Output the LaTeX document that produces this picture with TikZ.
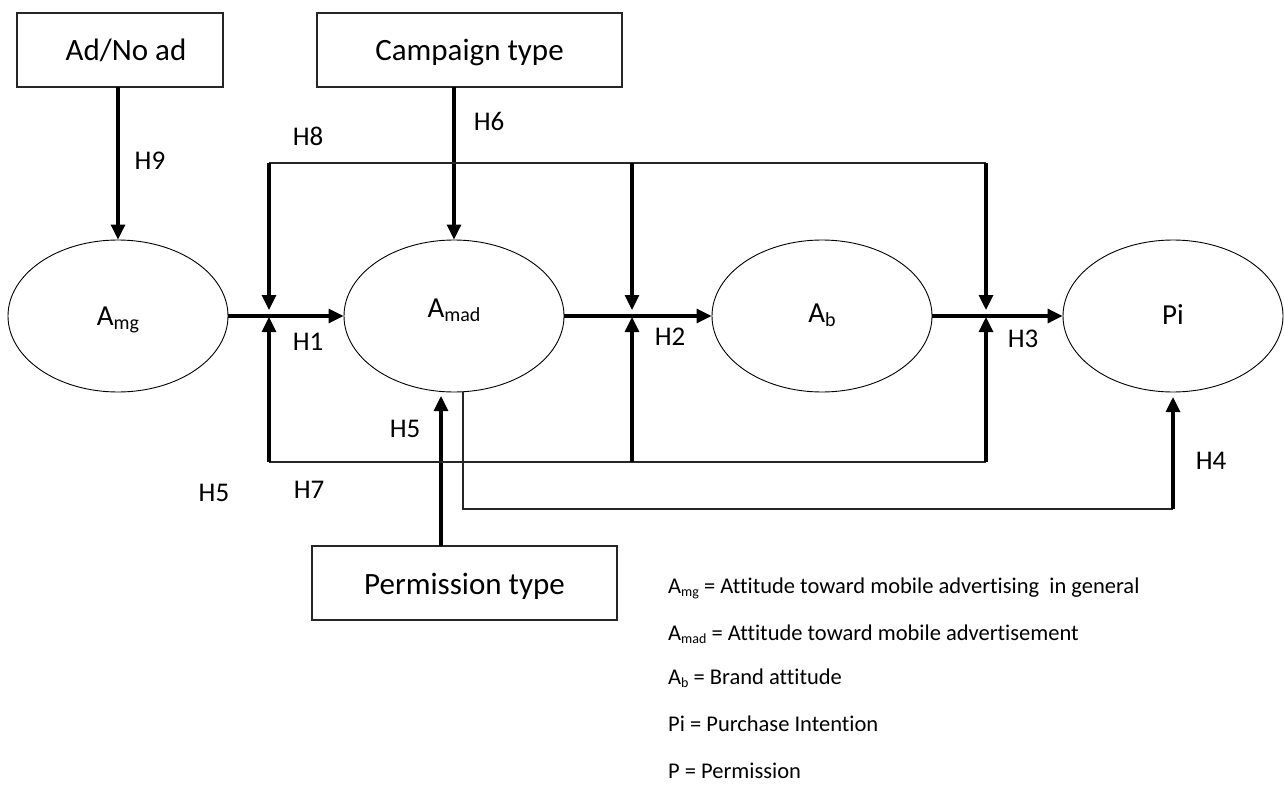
\documentclass[tikz,border=0pt]{standalone}
\usepackage{fontspec}
\setmainfont{Carlito}[Ligatures=CommonOff]
\usetikzlibrary{shapes.geometric,arrows.meta,calc}

% lowered, smaller subscripts for the construct names
\newcommand{\elsub}[1]{\raisebox{-4pt}{\fontsize{20}{20}\selectfont #1}}
\newcommand{\lgsub}[1]{\raisebox{-3pt}{\fontsize{14}{14}\selectfont #1}}

\tikzset{
  factorbox/.style={draw=black!85, line width=1.1pt, rectangle,
    minimum width=305pt, minimum height=74pt, inner sep=0pt,
    text height=22pt, text depth=-2pt,
    font=\fontsize{31}{36}\selectfont},
  construct/.style={draw=black, line width=0.9pt, ellipse,
    minimum width=220pt, minimum height=152pt, inner sep=0pt,
    text height=19pt, text depth=0pt, font=\fontsize{29}{34}\selectfont},
  hyp/.style={inner sep=0pt, text height=17.4pt, text depth=0pt,
    font=\fontsize{27}{32}\selectfont},
  legendline/.style={anchor=base west, inner sep=0pt,
    font=\fontsize{22.5}{27}\selectfont},
  effect/.style={line width=3.2pt, -{Triangle[length=15pt,width=14pt]}},
  link/.style={line width=1.3pt, black!85},
}

\begin{document}
\begin{tikzpicture}[x=1pt, y=-1pt]
\useasboundingbox (0,0) rectangle (1284,789);

% moderator boxes
\node[factorbox, minimum width=206pt] (adbox) at (120,50) {\hspace*{12pt}Ad/No ad};
\node[factorbox] (campbox) at (469.5,50) {Campaign type};
\node[factorbox] (permbox) at (464.5,583) {Permission type};

% constructs
\node[construct] (amg)  at (118,316)   {A\elsub{mg}};
\node[construct, text depth=16pt] (amad) at (454,316) {A\elsub{mad}};
\node[construct, text depth=7pt] (ab)   at (822,316)   {A\elsub{b}};
\node[construct, text depth=2pt] (pi)   at (1173,316)  {Pi};

% junctions on the main path and the moderator rails
\coordinate (j1) at (269,316);
\coordinate (j2) at (632,316);
\coordinate (j3) at (986,316);
\coordinate (t1) at (269,163);
\coordinate (t2) at (632,163);
\coordinate (t3) at (986,163);
\coordinate (b1) at (269,462);
\coordinate (b2) at (632,462);
\coordinate (b3) at (986,462);
\coordinate (pin) at (441,396);
\coordinate (pout) at (441,546);
\coordinate (camp) at (454,87);
\coordinate (adout) at (118,87);
\coordinate (h4a) at (463,392);
\coordinate (h4b) at (463,509);
\coordinate (h4c) at (1173,509);
\coordinate (h4d) at (1173,397);

% main causal chain
\draw[effect] (amg.east) -- (amad.west);
\draw[effect] (amad.east) -- (ab.west);
\draw[effect] (ab.east) -- (pi.west);

% direct moderator effects
\draw[effect] (adout) -- (amg.north);
\draw[effect] (camp) -- (amad.north);
\draw[effect] (pout) -- (pin);

% upper rail (H8)
\draw[link] (t1) -- (t3);
\draw[effect] (t1) -- ($(j1)+(0,-6)$);
\draw[effect] (t2) -- ($(j2)+(0,-6)$);
\draw[effect] (t3) -- ($(j3)+(0,-6)$);

% lower rail (H7)
\draw[link] (b1) -- (b3);
\draw[effect] (b1) -- ($(j1)+(0,1)$);
\draw[effect] (b2) -- ($(j2)+(0,1)$);
\draw[effect] (b3) -- ($(j3)+(0,1)$);

% H4 path
\draw[link] (h4a) -- (h4b) -- (h4c);
\draw[effect] (h4c) -- (h4d);

% hypothesis labels
\node[hyp] (h9) at (150,161) {H9};
\node[hyp] (h8) at (308,137) {H8};
\node[hyp] (h6) at (489,122) {H6};
\node[hyp] (h1) at (308,342) {H1};
\node[hyp] (h2) at (670,337) {H2};
\node[hyp] (h3) at (1023,339) {H3};
\node[hyp] (h5a) at (405,429) {H5};
\node[hyp] (h5b) at (214,493) {H5};
\node[hyp] (h7) at (309,490) {H7};
\node[hyp] (h4) at (1211,461) {H4};

% legend
\node[legendline] (lg1) at (668,593) {A\lgsub{mg} = Attitude toward mobile advertising\ \ in general};
\node[legendline] (lg2) at (668,640) {A\lgsub{mad} = Attitude toward mobile advertisement};
\node[legendline] (lg3) at (668,684) {A\lgsub{b} = Brand attitude};
\node[legendline] (lg4) at (668,731) {Pi = Purchase Intention};
\node[legendline] (lg5) at (668,778) {P = Permission};
\end{tikzpicture}
\end{document}
